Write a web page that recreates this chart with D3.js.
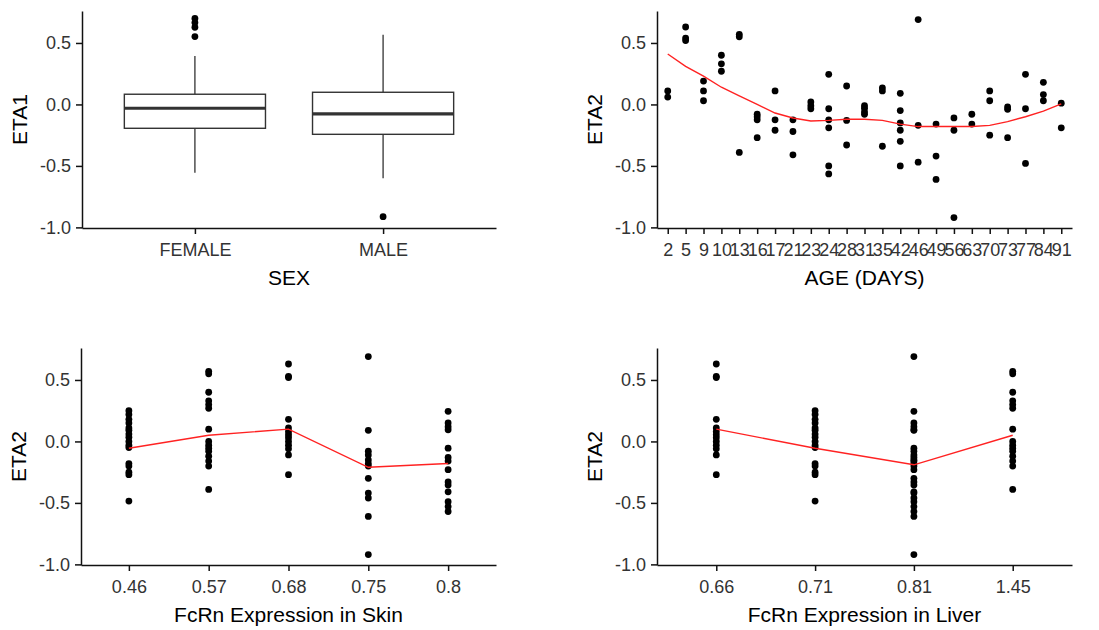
<!DOCTYPE html>
<html lang="en">
<head>
<meta charset="UTF-8">
<script src="https://d3js.org/d3.v7.min.js"></script>
<title>ETA diagnostics</title>
<style>
  body { margin: 0; background: #fff; }
  text { font-family: "Liberation Sans", Arial, sans-serif; }
</style>
</head>
<body>
<svg id="svg1" width="1099" height="630"></svg>
<script>

// --- data ---
const yTicks = [-1.0, -0.5, 0.0, 0.5]

// ETA1 by SEX, box stats (whisker low, q1, median, q3, whisker high) + outliers
const sexCats = ["FEMALE", "MALE"]
const sexBox = [
    {lo: -0.555, q1: -0.194, med: -0.031, q3: 0.083, hi: 0.395},
    {lo: -0.600, q1: -0.243, med: -0.077, q3: 0.099, hi: 0.566}
]
const sexOutliers = [[0.70, 0.666, 0.628, 0.552], [-0.913]]

// ETA2 by AGE
const ageCats = ["2","5","9","10","13","16","17","21","23","24","28","31","35","42","46","49","56","63","70","73","77","84","91"]
const ageEta2 = [
    [0.11, 0.06],
    [0.63, 0.54, 0.52],
    [0.19, 0.11, 0.03],
    [0.40, 0.33, 0.27],
    [0.57, 0.55, -0.39],
    [-0.08, -0.10, -0.125, -0.27],
    [0.11, -0.125, -0.21],
    [-0.125, -0.22, -0.41],
    [0.02, -0.01, -0.035],
    [0.245, -0.035, -0.125, -0.19, -0.50, -0.565],
    [0.15, -0.13, -0.33],
    [-0.01, -0.03, -0.06, -0.08],
    [0.135, 0.11, -0.34],
    [0.09, -0.05, -0.15, -0.21, -0.30, -0.50],
    [0.69, -0.17, -0.47],
    [-0.16, -0.42, -0.61],
    [-0.11, -0.21, -0.92],
    [-0.08, -0.16],
    [0.11, 0.03, -0.25],
    [-0.02, -0.04, -0.27],
    [0.245, -0.035, -0.48],
    [0.18, 0.08, 0.03],
    [0.01, -0.19]
]
const ageSmooth = [0.41, 0.31, 0.23, 0.14, 0.07, 0.0, -0.07, -0.11, -0.135, -0.13, -0.12, -0.12, -0.13, -0.16, -0.18, -0.18, -0.18, -0.18, -0.17, -0.14, -0.10, -0.055, 0.005]

// ETA2 by FcRn expression in skin
const skinCats = ["0.46", "0.57", "0.68", "0.75", "0.8"]
const skinEta2 = [
    [0.25, 0.22, 0.18, 0.15, 0.11, 0.09, 0.06, 0.035, 0.0, -0.03, -0.05, -0.18, -0.20, -0.25, -0.27, -0.485],
    [0.57, 0.55, 0.40, 0.33, 0.30, 0.27, 0.10, 0.0, -0.03, -0.055, -0.08, -0.12, -0.16, -0.20, -0.39],
    [0.63, 0.53, 0.52, 0.18, 0.11, 0.08, 0.055, 0.03, 0.0, -0.03, -0.06, -0.11, -0.27],
    [0.69, 0.09, -0.08, -0.11, -0.15, -0.18, -0.20, -0.30, -0.42, -0.46, -0.61, -0.92],
    [0.245, 0.15, 0.12, 0.095, -0.055, -0.13, -0.16, -0.23, -0.33, -0.355, -0.41, -0.49, -0.53, -0.57]
]
const skinMean = [-0.055, 0.05, 0.10, -0.21, -0.18]

// ETA2 by FcRn expression in liver
const liverCats = ["0.66", "0.71", "0.81", "1.45"]
const liverEta2 = [
    [0.63, 0.53, 0.52, 0.18, 0.11, 0.08, 0.055, 0.03, 0.0, -0.03, -0.06, -0.11, -0.27],
    [0.25, 0.22, 0.18, 0.15, 0.11, 0.09, 0.06, 0.035, 0.0, -0.03, -0.05, -0.18, -0.20, -0.25, -0.27, -0.485],
    [0.69, 0.245, 0.15, 0.12, 0.095, 0.09, -0.055, -0.08, -0.11, -0.13, -0.15, -0.16, -0.18, -0.20, -0.23, -0.30, -0.33, -0.355, -0.41, -0.42, -0.46, -0.49, -0.53, -0.57, -0.61, -0.92],
    [0.57, 0.55, 0.40, 0.33, 0.30, 0.27, 0.10, 0.0, -0.03, -0.055, -0.08, -0.12, -0.16, -0.20, -0.39]
]
const liverMean = [0.10, -0.055, -0.19, 0.05]

// --- drawing ---
let svg = d3.select("#svg1")

function panel(opts) {
    let g = svg.append("g")
    let x = d3.scalePoint().domain(opts.cats).range([opts.left, opts.right]).padding(0.6)
    let y = d3.scaleLinear().domain([-1.005, 0.76]).range([opts.bottom, opts.top])

    g.append("g")
        .attr("transform", `translate(${opts.left},0)`)
        .call(d3.axisLeft(y).tickValues(yTicks).tickFormat(d => d.toFixed(1))
            .tickSize(6).tickSizeOuter(0).tickPadding(5))
    g.append("g")
        .attr("transform", `translate(0,${opts.bottom})`)
        .call(d3.axisBottom(x).tickSize(6).tickSizeOuter(0).tickPadding(9))

    g.selectAll(".domain, .tick line").attr("stroke", "#111").attr("stroke-width", 1.5)
    g.selectAll(".tick text").attr("fill", "#333").style("font-size", "18px")
        .style("font-family", "'Liberation Sans', Arial, sans-serif")

    g.append("text")
        .attr("x", (opts.left + opts.right) / 2)
        .attr("y", opts.bottom + 57)
        .attr("text-anchor", "middle")
        .style("font-size", "21px")
        .text(opts.xTitle)
    g.append("text")
        .attr("transform", `translate(${opts.left - 62},${(opts.top + opts.bottom) / 2}) rotate(-90)`)
        .attr("dy", "0.35em")
        .attr("text-anchor", "middle")
        .style("font-size", "21px")
        .text(opts.yTitle)

    return {g, x, y}
}

function dots(p, cats, groups) {
    let pts = []
    groups.forEach((vals, i) => vals.forEach(v => pts.push({c: cats[i], v: v})))
    p.g.append("g").selectAll("circle")
        .data(pts)
        .enter()
        .append("circle")
        .attr("cx", d => p.x(d.c))
        .attr("cy", d => p.y(d.v))
        .attr("r", 3.4)
        .attr("fill", "#000")
}

function redLine(p, cats, vals) {
    let line = d3.line().x((d, i) => p.x(cats[i])).y(d => p.y(d))
    p.g.append("path")
        .datum(vals)
        .attr("d", line)
        .attr("fill", "none")
        .attr("stroke", "#f22")
        .attr("stroke-width", 1.4)
}

// top left: box plot
let p1 = panel({cats: sexCats, left: 82, right: 496, top: 11, bottom: 228, xTitle: "SEX", yTitle: "ETA1"})
let bw = p1.x.step() * 0.75
let boxes = p1.g.append("g").selectAll("g").data(sexBox).enter().append("g")
boxes.append("line")
    .attr("x1", (d, i) => p1.x(sexCats[i])).attr("x2", (d, i) => p1.x(sexCats[i]))
    .attr("y1", d => p1.y(d.hi)).attr("y2", d => p1.y(d.q3))
    .attr("stroke", "#333").attr("stroke-width", 1.3)
boxes.append("line")
    .attr("x1", (d, i) => p1.x(sexCats[i])).attr("x2", (d, i) => p1.x(sexCats[i]))
    .attr("y1", d => p1.y(d.q1)).attr("y2", d => p1.y(d.lo))
    .attr("stroke", "#333").attr("stroke-width", 1.3)
boxes.append("rect")
    .attr("x", (d, i) => p1.x(sexCats[i]) - bw / 2)
    .attr("width", bw)
    .attr("y", d => p1.y(d.q3))
    .attr("height", d => p1.y(d.q1) - p1.y(d.q3))
    .attr("fill", "#fff").attr("stroke", "#333").attr("stroke-width", 1.4)
boxes.append("line")
    .attr("x1", (d, i) => p1.x(sexCats[i]) - bw / 2).attr("x2", (d, i) => p1.x(sexCats[i]) + bw / 2)
    .attr("y1", d => p1.y(d.med)).attr("y2", d => p1.y(d.med))
    .attr("stroke", "#333").attr("stroke-width", 3.2)
dots(p1, sexCats, sexOutliers)

// top right: ETA2 vs age
let p2 = panel({cats: ageCats, left: 657, right: 1072, top: 11, bottom: 228, xTitle: "AGE (DAYS)", yTitle: "ETA2"})
dots(p2, ageCats, ageEta2)
redLine(p2, ageCats, ageSmooth)

// bottom left: skin
let p3 = panel({cats: skinCats, left: 81, right: 496, top: 348, bottom: 565, xTitle: "FcRn Expression in Skin", yTitle: "ETA2"})
dots(p3, skinCats, skinEta2)
redLine(p3, skinCats, skinMean)

// bottom right: liver
let p4 = panel({cats: liverCats, left: 657, right: 1072, top: 348, bottom: 565, xTitle: "FcRn Expression in Liver", yTitle: "ETA2"})
dots(p4, liverCats, liverEta2)
redLine(p4, liverCats, liverMean)

</script>
</body>
</html>
